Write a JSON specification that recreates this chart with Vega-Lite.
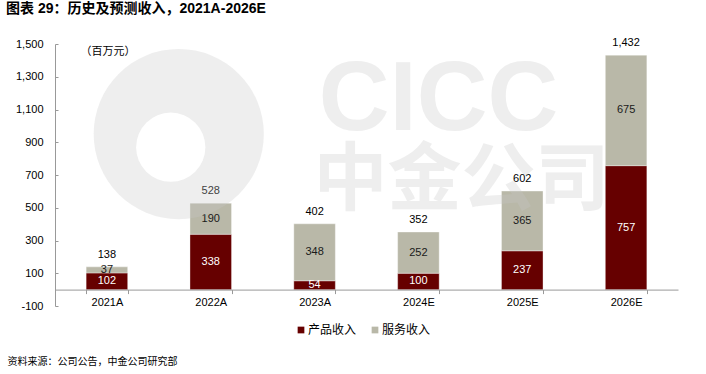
{
  "$schema": "https://vega.github.io/schema/vega-lite/v6.json",
  "width": 623,
  "height": 262,
  "autosize": {"type": "none"},
  "padding": {"left": 55, "top": 44, "right": 28, "bottom": 68},
  "background": "white",
  "config": {
    "view": {"stroke": null},
    "font": "Liberation Sans, Arial, Noto Sans CJK SC",
    "axis": {"labelFont": "Liberation Sans, Arial, Noto Sans CJK SC", "titleFont": "Liberation Sans, Noto Sans CJK SC", "labelOverlap": false},
    "axisY": {"labelOverlap": false, "labelExpr": "datum.value < 0 ? '-' + format(-datum.value, ',') : format(datum.value, ',')"},
    "legend": {"labelFont": "Liberation Sans, Noto Sans CJK SC"}
  },
  "title": {
    "text": "图表 29：历史及预测收入，2021A-2026E",
    "anchor": "start",
    "frame": "group",
    "dx": -49,
    "offset": 21,
    "fontSize": 14,
    "fontWeight": "bold",
    "font": "Liberation Sans, Noto Sans CJK SC",
    "color": "#000000"
  },
  "datasets": {
    "rev": [
      {"year": "2021A", "type": "产品收入", "k": 1, "value": 102},
      {"year": "2021A", "type": "服务收入", "k": 2, "value": 37},
      {"year": "2022A", "type": "产品收入", "k": 1, "value": 338},
      {"year": "2022A", "type": "服务收入", "k": 2, "value": 190},
      {"year": "2023A", "type": "产品收入", "k": 1, "value": 54},
      {"year": "2023A", "type": "服务收入", "k": 2, "value": 348},
      {"year": "2024E", "type": "产品收入", "k": 1, "value": 100},
      {"year": "2024E", "type": "服务收入", "k": 2, "value": 252},
      {"year": "2025E", "type": "产品收入", "k": 1, "value": 237},
      {"year": "2025E", "type": "服务收入", "k": 2, "value": 365},
      {"year": "2026E", "type": "产品收入", "k": 1, "value": 757},
      {"year": "2026E", "type": "服务收入", "k": 2, "value": 675}
    ],
    "tot": [
      {"year": "2021A", "total": 138},
      {"year": "2022A", "total": 528},
      {"year": "2023A", "total": 402},
      {"year": "2024E", "total": 352},
      {"year": "2025E", "total": 602},
      {"year": "2026E", "total": 1432}
    ]
  },
  "layer": [
    {
      "data": {"name": "rev"},
      "mark": {"type": "bar", "stroke": "#ffffff", "strokeWidth": 0.6, "strokeOpacity": 0.6},
      "encoding": {
        "x": {
          "field": "year", "type": "nominal", "sort": null,
          "scale": {"domain": ["2021A", "2022A", "2023A", "2024E", "2025E", "2026E"], "paddingInner": 0.6, "paddingOuter": 0.3},
          "axis": {
            "title": "资料来源：公司公告，中金公司研究部",
            "titleX": -48, "titleY": 72, "titleAlign": "left", "titleAnchor": "start", "titleBaseline": "middle",
            "titleFontSize": 10, "titleFontWeight": "normal", "titleColor": "#000000", "titleFont": "Noto Sans CJK SC",
            "labelAngle": 0, "labelFontSize": 11, "labelColor": "#000000", "labelPadding": 3,
            "domainColor": "#999999", "tickColor": "#999999", "tickSize": 4, "tickBand": "extent",
            "offset": -16.4, "zindex": 1
          }
        },
        "y": {
          "field": "value", "type": "quantitative", "stack": "zero",
          "scale": {"domain": [-100, 1500], "nice": false, "zero": false},
          "axis": {
            "values": [-100, 100, 300, 500, 700, 900, 1100, 1300, 1500],
            "grid": false, "labelOverlap": false,
            "labelExpr": "datum.value < 0 ? '-' + format(-datum.value, ',') : format(datum.value, ',')",
            "title": "（百万元）", "titleAngle": 0, "titleX": 25, "titleY": 7, "titleAlign": "left", "titleBaseline": "middle",
            "titleFontSize": 11, "titleFontWeight": "normal", "titleColor": "#000000", "titleFont": "Noto Sans CJK SC",
            "labelFontSize": 11, "labelColor": "#000000", "labelPadding": 15,
            "domainColor": "#999999", "tickColor": "#999999", "tickSize": -3
          }
        },
        "color": {
          "field": "type", "type": "nominal",
          "scale": {"domain": ["产品收入", "服务收入"], "range": ["#660000", "#B9B8A8"]},
          "legend": {
            "title": null, "orient": "none", "direction": "horizontal", "legendX": 240, "legendY": 280,
            "symbolType": "square", "symbolSize": 45, "symbolStrokeWidth": 0, "labelFontSize": 12, "labelColor": "#000000",
            "labelOffset": 1, "columnPadding": 12, "labelFont": "Noto Sans CJK SC"
          }
        },
        "order": {"field": "k", "type": "quantitative"}
      }
    },
    {
      "data": {"name": "rev"},
      "transform": [
        {"stack": "value", "groupby": ["year"], "sort": [{"field": "k", "order": "ascending"}], "as": ["v0", "v1"]},
        {"calculate": "(datum.v0 + datum.v1) / 2", "as": "mid"}
      ],
      "mark": {"type": "text", "fontSize": 11, "baseline": "middle", "align": "center"},
      "encoding": {
        "x": {"field": "year", "type": "nominal", "sort": null, "title": "资料来源：公司公告，中金公司研究部"},
        "y": {"field": "mid", "type": "quantitative", "title": "（百万元）", "axis": {"values": [-100, 100, 300, 500, 700, 900, 1100, 1300, 1500], "labelOverlap": false, "labelExpr": "datum.value < 0 ? '-' + format(-datum.value, ',') : format(datum.value, ',')"}},
        "text": {"field": "value", "type": "quantitative", "format": ","},
        "color": {"condition": {"test": "datum.k === 1", "value": "#ffffff"}, "value": "#1a1a1a"}
      }
    },
    {
      "data": {"name": "tot"},
      "mark": {"type": "text", "fontSize": 11, "baseline": "middle", "align": "center", "dy": -12, "color": "#000000"},
      "encoding": {
        "x": {"field": "year", "type": "nominal", "sort": null, "title": "资料来源：公司公告，中金公司研究部"},
        "y": {"field": "total", "type": "quantitative", "title": "（百万元）", "axis": {"values": [-100, 100, 300, 500, 700, 900, 1100, 1300, 1500], "labelOverlap": false, "labelExpr": "datum.value < 0 ? '-' + format(-datum.value, ',') : format(datum.value, ',')"}},
        "text": {"field": "total", "type": "quantitative", "format": ","}
      }
    },
    {
      "data": {"values": [{"w": "disk"}]},
      "mark": {"type": "point", "filled": true, "size": 28953, "color": "#c8c8c8", "opacity": 0.3, "xOffset": -32},
      "encoding": {
        "x": {"datum": "2022A", "title": "资料来源：公司公告，中金公司研究部"},
        "y": {"datum": 950, "title": "（百万元）", "axis": {"values": [-100, 100, 300, 500, 700, 900, 1100, 1300, 1500], "labelOverlap": false, "labelExpr": "datum.value < 0 ? '-' + format(-datum.value, ',') : format(datum.value, ',')"}}
      }
    },
    {
      "data": {"values": [{"w": "hole"}]},
      "mark": {"type": "point", "filled": true, "size": 4800, "color": "#ffffff", "opacity": 1, "xOffset": -40},
      "encoding": {
        "x": {"datum": "2022A", "title": "资料来源：公司公告，中金公司研究部"},
        "y": {"datum": 870, "title": "（百万元）", "axis": {"values": [-100, 100, 300, 500, 700, 900, 1100, 1300, 1500], "labelOverlap": false, "labelExpr": "datum.value < 0 ? '-' + format(-datum.value, ',') : format(datum.value, ',')"}}
      }
    },
    {
      "data": {"values": [{"w": "CICC"}]},
      "mark": {"type": "text", "text": "CICC", "fontSize": 98, "fontWeight": "bold", "font": "Liberation Sans", "align": "center", "baseline": "alphabetic", "dx": 20, "color": "#c8c8c8", "opacity": 0.3},
      "encoding": {
        "x": {"datum": "2024E", "title": "资料来源：公司公告，中金公司研究部"},
        "y": {"datum": 975, "title": "（百万元）", "axis": {"values": [-100, 100, 300, 500, 700, 900, 1100, 1300, 1500], "labelOverlap": false, "labelExpr": "datum.value < 0 ? '-' + format(-datum.value, ',') : format(datum.value, ',')"}}
      }
    },
    {
      "data": {"values": [{"w": "中金公司"}]},
      "mark": {"type": "text", "text": "中金公司", "fontSize": 74, "fontWeight": "bold", "font": "Noto Sans CJK SC", "align": "center", "baseline": "alphabetic", "dx": 43, "color": "#c8c8c8", "opacity": 0.3},
      "encoding": {
        "x": {"datum": "2024E", "title": "资料来源：公司公告，中金公司研究部"},
        "y": {"datum": 523, "title": "（百万元）", "axis": {"values": [-100, 100, 300, 500, 700, 900, 1100, 1300, 1500], "labelOverlap": false, "labelExpr": "datum.value < 0 ? '-' + format(-datum.value, ',') : format(datum.value, ',')"}}
      }
    }
  ]
}
